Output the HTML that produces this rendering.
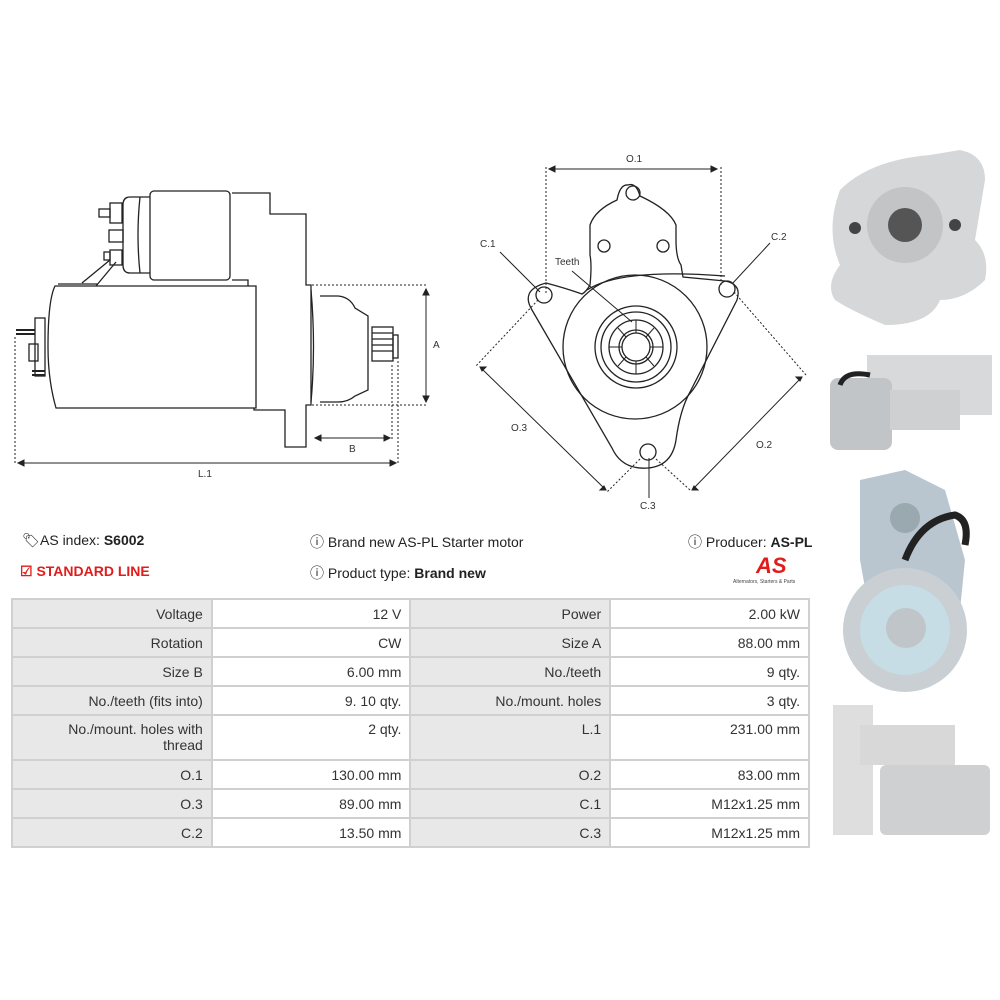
<!DOCTYPE html>
<html><head><meta charset="utf-8"><style>
body{margin:0;width:1000px;height:1000px;background:#fff;font-family:"Liberation Sans",sans-serif;position:relative;overflow:hidden}
.t{position:absolute;font-size:14px;color:#222;white-space:nowrap}
table{position:absolute;left:11px;top:598px;border-collapse:collapse;width:799px;font-size:14px;color:#333}
tr{height:29px}
tr.tall{height:45px}
td{border:2px solid #d0d0d0;text-align:right;padding:0 8px;vertical-align:middle}
td.l{background:#e8e8e8;width:183px}
td.v{background:#fff;width:182px}
tr.tall td{vertical-align:top;padding-top:5px;line-height:16px}
</style></head><body>
<svg width="1000" height="1000" style="position:absolute;left:0;top:0" fill="none" stroke="#222" stroke-width="1.3" font-family="Liberation Sans" font-size="10">
<!-- side view -->
<rect x="150" y="191" width="80" height="89" rx="4"/>
<path d="M150 197 H130 Q123 197 123 205 V265 Q123 273 130 273 H150"/>
<path d="M140 197 Q136 235 140 273"/>
<rect x="110" y="203" width="12" height="20"/><rect x="99" y="209" width="11" height="8"/>
<rect x="109" y="230" width="14" height="12"/>
<rect x="110" y="250" width="12" height="15"/><rect x="104" y="252" width="6" height="8"/>
<path d="M110 260 L82 283 M116 262 L96 286"/>
<path d="M232 193 H270 V214 H306 V285 L311 285 V405 H306 V447 H285 V410 H254 V408"/>
<path d="M232 280 H248 V286"/>
<path d="M60 286 H256 V408 H56 Q48 380 48 347 Q48 300 55 286 Z"/>
<path d="M58 284 H98"/>
<rect x="35" y="318" width="10" height="58"/><rect x="29" y="344" width="9" height="17"/>
<path d="M16 330 H35 M16 334 H35 M32 371 H45 M32 375 H45" stroke-width="2"/>
<path d="M311 290 Q316 347 311 402"/>
<path d="M320 296 H338 Q350 297 355 308 L368 316 V390 L355 396 Q348 402 338 402 H320"/>
<rect x="372" y="327" width="21" height="34"/><rect x="393" y="335" width="5" height="23"/>
<path d="M372 333 H393 M372 339 H393 M372 345 H393 M372 351 H393"/>
<g stroke-dasharray="2 2" stroke-width="1">
<path d="M15 337 V463 M398 361 V463 M392 365 V440 M312 285 H428 M312 405 H428"/>
</g>
<g stroke-width="1"><path d="M18 463 H396 M426 289 V402 M315 438 H390"/>
<path d="M18 463 l6 -3 v6z M396 463 l-6 -3 v6z M426 289 l-3 6 h6z M426 402 l-3 -6 h6z M315 438 l6 -3 v6z M390 438 l-6 -3 v6z" fill="#222"/></g>
<g fill="#333" stroke="none"><text x="198" y="477">L.1</text><text x="349" y="452">B</text><text x="433" y="348">A</text></g>
<!-- front view -->
<path d="M546 283 Q520 290 532 310 L612 448 Q622 470 648 468 Q672 466 676 440 Q680 410 690 392 L737 300 Q742 284 725 281 L683 277 L681 265 Q676 258 676 240 V225 Q670 210 640 196 Q636 182 628 185 Q620 184 617 200 Q595 210 590 225 V255 Q592 265 590 285 Q586 292 582 294 Q565 288 546 283 Z"/>
<path d="M587 290 Q620 268 725 276"/>
<circle cx="544" cy="295" r="8"/><circle cx="727" cy="289" r="8"/><circle cx="648" cy="452" r="8"/>
<circle cx="633" cy="193" r="7"/><circle cx="604" cy="246" r="6"/><circle cx="663" cy="246" r="6"/>
<circle cx="635" cy="347" r="72"/><circle cx="636" cy="347" r="41"/><circle cx="636" cy="347" r="35"/>
<circle cx="636" cy="347" r="27"/><circle cx="636" cy="347" r="17"/><circle cx="636" cy="347" r="14"/>
<g stroke-width="1"><path d="M636 320 V333 M654 328 L646 337 M663 347 H650 M654 366 L646 357 M636 374 V361 M618 366 L626 357 M609 347 H622 M618 328 L626 337"/></g>
<g stroke-dasharray="2 2" stroke-width="1"><path d="M546 167 V293 M721 167 V287 M538 300 L475 367 M640 459 L607 492 M734 292 L806 375 M656 459 L690 490"/></g>
<g stroke-width="1"><path d="M549 169 H717 M480 367 L606 490 M802 377 L692 490 M500 252 L540 292 M770 243 L732 284 M649 498 V458 M572 271 L632 322"/>
<path d="M549 169 l6 -3 v6z M717 169 l-6 -3 v6z M480 367 l6 0 l-4 4z M606 490 l-6 0 l4 -4z M802 377 l-6 0 l4 4z M692 490 l6 0 l-4 -4z" fill="#222"/></g>
<g fill="#333" stroke="none"><text x="626" y="162">O.1</text><text x="480" y="247">C.1</text><text x="771" y="240">C.2</text><text x="555" y="265">Teeth</text><text x="511" y="431">O.3</text><text x="756" y="448">O.2</text><text x="640" y="509">C.3</text></g>
<!-- photos -->
<g stroke="none">
<path d="M840 190 Q870 160 930 155 L960 150 Q985 155 985 180 Q980 210 975 240 Q990 255 985 280 Q965 300 940 300 Q930 325 885 325 Q850 310 835 300 Q825 285 840 265 Q825 230 840 190Z" fill="#d5d7d8"/>
<circle cx="905" cy="225" r="38" fill="#c2c4c5"/><circle cx="905" cy="225" r="17" fill="#555"/>
<circle cx="855" cy="228" r="6" fill="#444"/><circle cx="955" cy="225" r="6" fill="#444"/>
<rect x="867" y="355" width="125" height="60" fill="#d8d9da"/><rect x="830" y="378" width="62" height="72" rx="8" fill="#c2c5c8"/>
<rect x="890" y="390" width="70" height="40" fill="#cfd0d1"/><path d="M840 385 Q845 370 870 375" stroke="#222" stroke-width="5"/>
<path d="M860 480 L905 470 L945 490 L965 560 L960 610 L870 615 L860 560Z" fill="#b9c6cf"/>
<circle cx="905" cy="630" r="62" fill="#c9cfd3"/><circle cx="905" cy="630" r="45" fill="#c6dde5"/><circle cx="906" cy="628" r="20" fill="#bfc5c8"/>
<circle cx="905" cy="518" r="15" fill="#9aa8b0"/><path d="M905 560 Q920 520 955 515 Q970 520 965 545" stroke="#222" stroke-width="7"/>
<rect x="833" y="705" width="40" height="130" fill="#dedede"/><rect x="860" y="725" width="95" height="40" fill="#d8d8d8"/>
<rect x="880" y="765" width="110" height="70" rx="6" fill="#cfd0d1"/>
</g>
</svg>
<div class="t" style="left:22px;top:532px">&#x1F3F7;&#xFE0E;</div>
<div class="t" style="left:40px;top:532px">AS index: <b>S6002</b></div>
<div class="t" style="left:20px;top:563px;color:#e21b1b;font-weight:bold">&#9745; STANDARD LINE</div>
<div class="t" style="left:310px;top:532px">&#9432; Brand new AS-PL Starter motor</div>
<div class="t" style="left:310px;top:563px">&#9432; Product type: <b>Brand new</b></div>
<div class="t" style="left:688px;top:532px">&#9432; Producer: <b>AS-PL</b></div>
<div class="t" style="left:756px;top:553px;color:#e21b1b;font-weight:bold;font-style:italic;font-size:22px">AS</div>
<div class="t" style="left:733px;top:579px;font-size:5px;color:#444">Alternators, Starters &amp; Parts</div>
<table>
<tr><td class="l">Voltage</td><td class="v">12 V</td><td class="l">Power</td><td class="v">2.00 kW</td></tr>
<tr><td class="l">Rotation</td><td class="v">CW</td><td class="l">Size A</td><td class="v">88.00 mm</td></tr>
<tr><td class="l">Size B</td><td class="v">6.00 mm</td><td class="l">No./teeth</td><td class="v">9 qty.</td></tr>
<tr><td class="l">No./teeth (fits into)</td><td class="v">9. 10 qty.</td><td class="l">No./mount. holes</td><td class="v">3 qty.</td></tr>
<tr class="tall"><td class="l">No./mount. holes with<br>thread</td><td class="v">2 qty.</td><td class="l">L.1</td><td class="v">231.00 mm</td></tr>
<tr><td class="l">O.1</td><td class="v">130.00 mm</td><td class="l">O.2</td><td class="v">83.00 mm</td></tr>
<tr><td class="l">O.3</td><td class="v">89.00 mm</td><td class="l">C.1</td><td class="v">M12x1.25 mm</td></tr>
<tr><td class="l">C.2</td><td class="v">13.50 mm</td><td class="l">C.3</td><td class="v">M12x1.25 mm</td></tr>
</table>
</body></html>
